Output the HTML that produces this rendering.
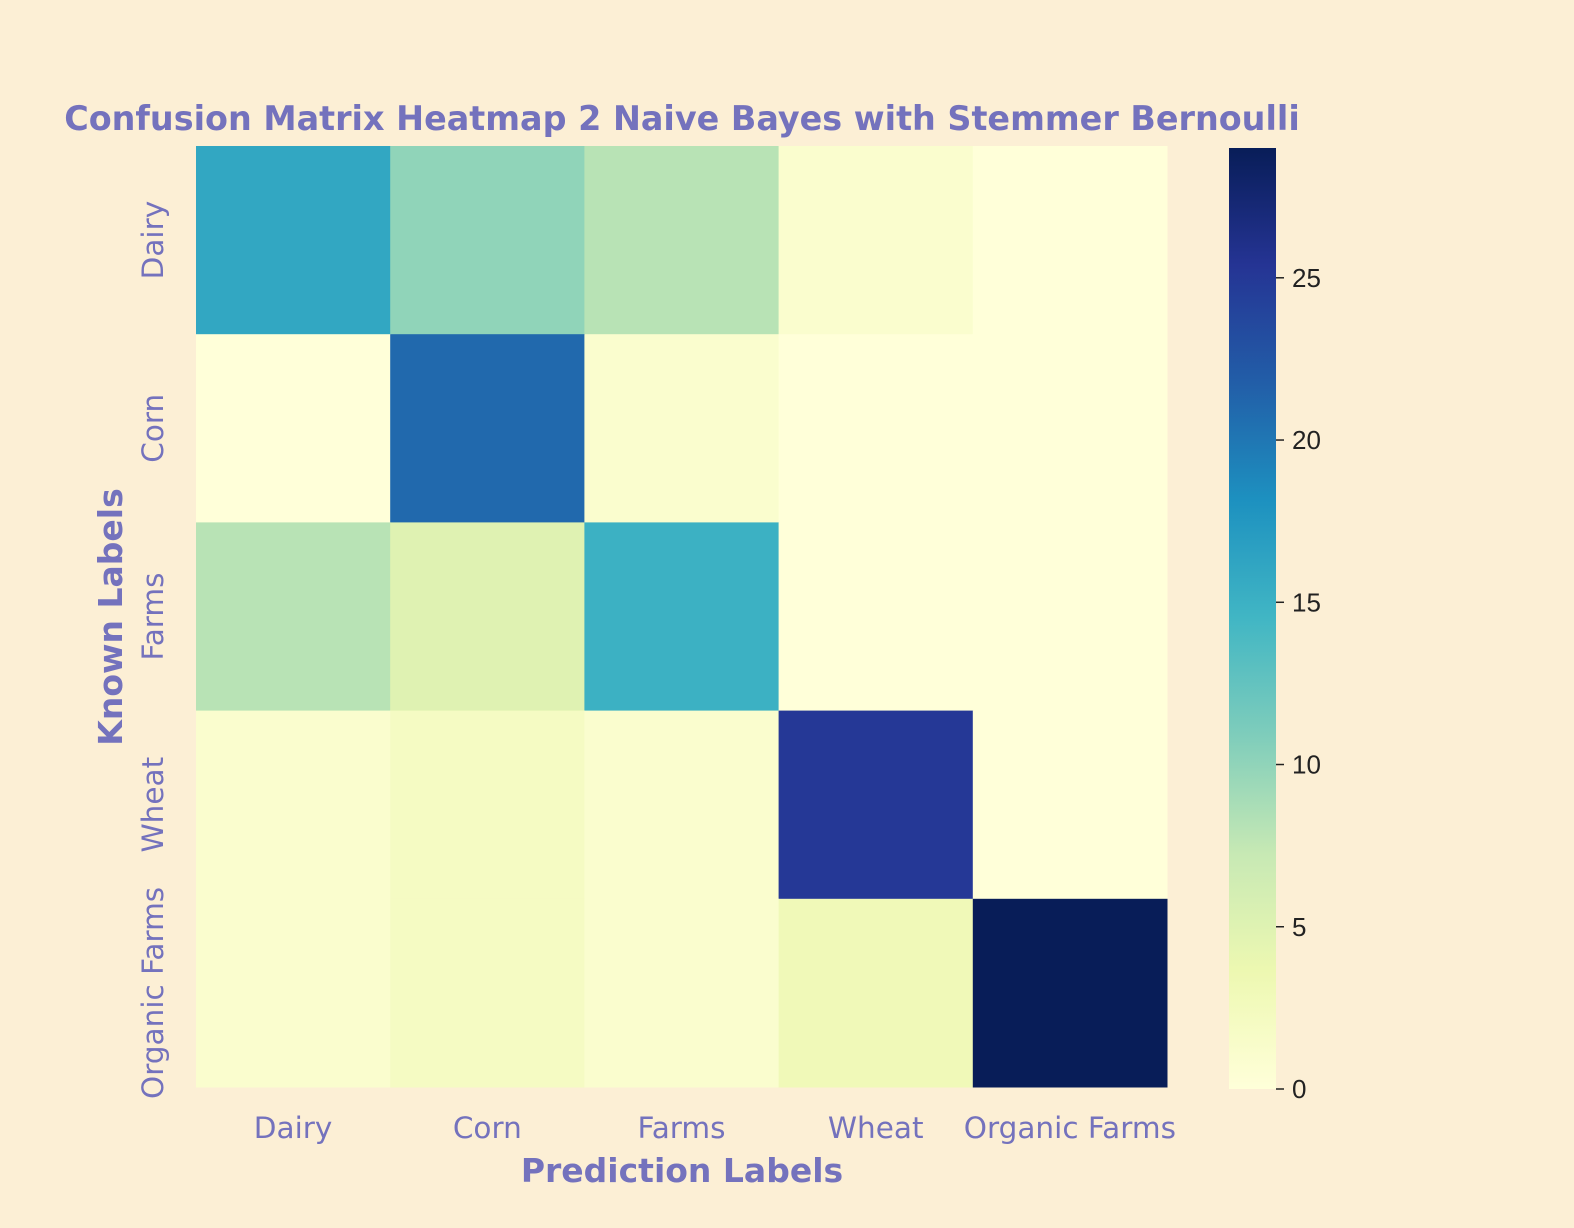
<!DOCTYPE html>
<html><head><meta charset="utf-8"><style>
body{margin:0;background:#fcefd5;}
svg{display:block;font-family:"DejaVu Sans","Liberation Sans",sans-serif;}
</style></head><body>
<svg id="chart" width="1574" height="1228" viewBox="0 0 1574 1228">
<rect width="1574" height="1228" fill="#fcefd5"/>
<text x="682" y="130" text-anchor="middle" font-size="33.4" font-weight="bold" fill="#7472bd">Confusion Matrix Heatmap 2 Naive Bayes with Stemmer Bernoulli</text>
<g id="cells"></g>
<g id="xt"></g>
<g id="yt"></g>
<text x="682" y="1182" text-anchor="middle" font-size="33" font-weight="bold" fill="#7472bd">Prediction Labels</text>
<text transform="translate(122,617) rotate(-90)" text-anchor="middle" font-size="33" font-weight="bold" fill="#7472bd">Known Labels</text>
<defs><linearGradient id="cbg" x1="0" y1="1" x2="0" y2="0"></linearGradient></defs>
<rect x="1229" y="148" width="47" height="941" fill="url(#cbg)"/>
<g id="cbt"></g>
</svg>
<script>
const categories=["Dairy","Corn","Farms","Wheat","Organic Farms"];
const row0=[16,10,8,1,0];
const row1=[0,21,1,0,0];
const row2=[8,5,15,0,0];
const row3=[1,2,1,25,0];
const row4=[1,2,1,3,29];
const matrix=[row0,row1,row2,row3,row4];
const cbTicks=[0,5,10,15,20,25];
const vmin=0, vmax=29;
const ns="http://www.w3.org/2000/svg";
const stops=["#ffffd9","#edf8b1","#c7e9b4","#7fcdbb","#41b6c4","#1d91c0","#225ea8","#253494","#081d58"];
function hex(h){return [1,3,5].map(i=>parseInt(h.substr(i,2),16));}
function cmap(v){let t=Math.max(0,Math.min(1,(v-vmin)/(vmax-vmin)))*(stops.length-1);let i=Math.min(stops.length-2,Math.floor(t));let f=t-i;let a=hex(stops[i]),b=hex(stops[i+1]);return "rgb("+a.map((x,k)=>Math.round(x+(b[k]-x)*f)).join(",")+")";}
const X0=196,X1=1167,Y0=146,Y1=1087;
const cw=(X1-X0)/categories.length, ch=(Y1-Y0)/categories.length;
function xs(i){return X0+i*cw;} function ys(i){return Y0+i*ch;}
const cells=document.getElementById('cells');
matrix.forEach((row,r)=>row.forEach((v,c)=>{
 const el=document.createElementNS(ns,'rect');
 el.setAttribute('x',xs(c));el.setAttribute('y',ys(r));el.setAttribute('width',cw+0.5);el.setAttribute('height',ch+0.5);el.setAttribute('fill',cmap(v));
 
 
 cells.appendChild(el);
}));
const xt=document.getElementById('xt'),yt=document.getElementById('yt');
categories.forEach((c,i)=>{
 const t=document.createElementNS(ns,'text');
 t.setAttribute('x',xs(i)+cw/2);t.setAttribute('y',1138);t.setAttribute('text-anchor','middle');t.setAttribute('font-size','29.5');t.setAttribute('fill','#7472bd');t.textContent=c;
 
 
 xt.appendChild(t);
 const u=document.createElementNS(ns,'text');
 u.setAttribute('transform','translate(163,'+(ys(i)+ch/2)+') rotate(-90)');u.setAttribute('text-anchor','middle');u.setAttribute('font-size','29.5');u.setAttribute('fill','#7472bd');u.textContent=c;
 
 
 yt.appendChild(u);
});
const g=document.getElementById('cbg');
stops.forEach((s,i)=>{const st=document.createElementNS(ns,'stop');st.setAttribute('offset',i/(stops.length-1));st.setAttribute('stop-color',s);g.appendChild(st);});
const cbt=document.getElementById('cbt');
const CB0=1089,CB1=148;
function cy(v){return CB0-(v-vmin)/(vmax-vmin)*(CB0-CB1);}
cbTicks.forEach(v=>{
 const l=document.createElementNS(ns,'line');
 l.setAttribute('x1',1276);l.setAttribute('x2',1284);l.setAttribute('y1',cy(v));l.setAttribute('y2',cy(v));l.setAttribute('stroke','#222');l.setAttribute('stroke-width','1.5');
 
 
 cbt.appendChild(l);
 const t=document.createElementNS(ns,'text');
 t.setAttribute('x',1292);t.setAttribute('y',cy(v)+9);t.setAttribute('font-size','26');t.setAttribute('fill','#222');t.setAttribute('font-family','"Liberation Sans",sans-serif');t.textContent=v;
 
 
 cbt.appendChild(t);
});
</script>
</body></html>
